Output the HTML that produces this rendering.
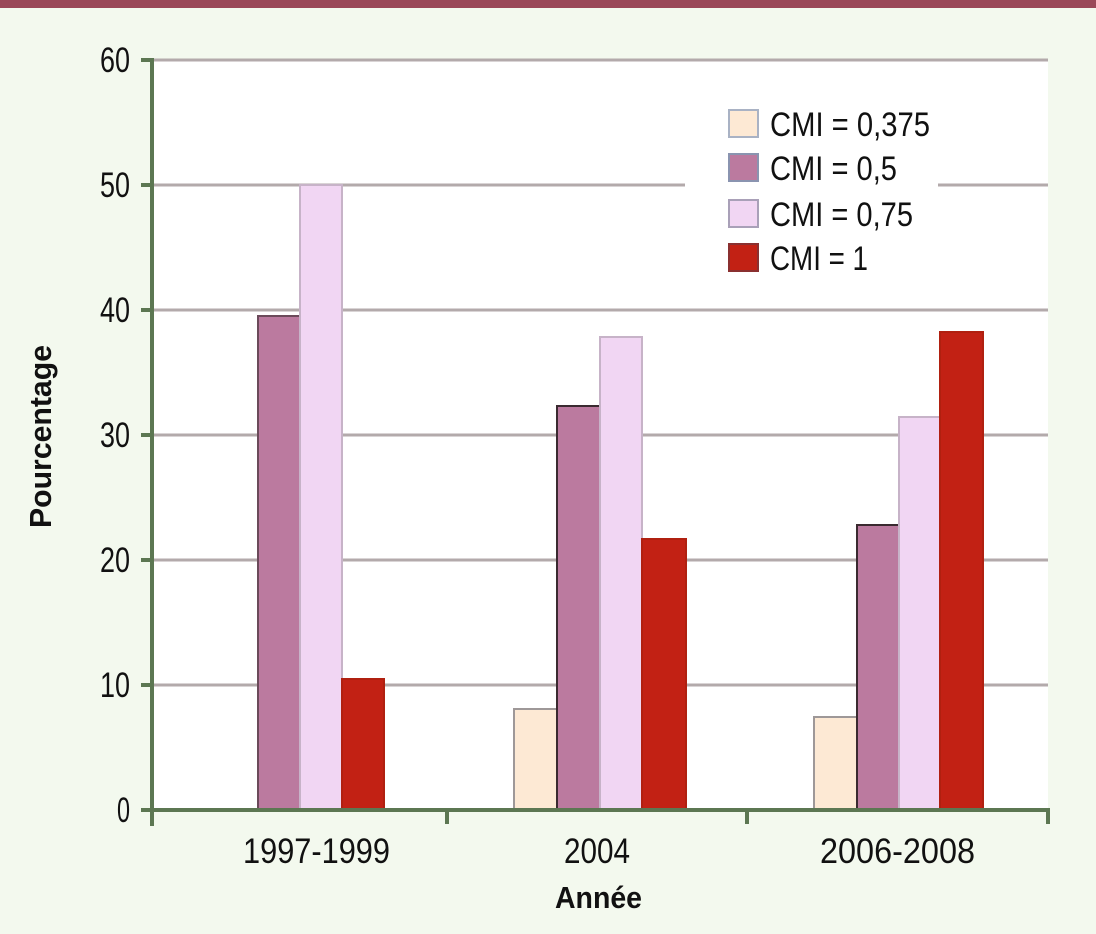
<!DOCTYPE html>
<html><head><meta charset="utf-8"><style>
html,body{margin:0;padding:0;background:#f3f9ee;}
svg{display:block;}
text{font-family:"Liberation Sans",sans-serif;fill:#111;}
</style></head><body>
<svg width="1096" height="934" viewBox="0 0 1096 934" xmlns="http://www.w3.org/2000/svg">
<rect x="0" y="0" width="1096" height="934" fill="#f3f9ee"/>
<rect x="0" y="0" width="1096" height="8" fill="#9a4858"/>
<rect x="152" y="60" width="896" height="750" fill="#ffffff"/>
<g stroke="#b3aaab" stroke-width="3">
<line x1="152" y1="60" x2="1048" y2="60"/>
<line x1="152" y1="185" x2="685" y2="185"/>
<line x1="938" y1="185" x2="1048" y2="185"/>
<line x1="152" y1="310" x2="1048" y2="310"/>
<line x1="152" y1="435" x2="1048" y2="435"/>
<line x1="152" y1="560" x2="1048" y2="560"/>
<line x1="152" y1="685" x2="1048" y2="685"/>
</g>
<g stroke-width="2">
<rect x="258" y="316" width="42" height="494" fill="#bb7a9f" stroke="#6b4a5a"/>
<rect x="300" y="185" width="42" height="625" fill="#f1d6f3" stroke="#c7b3c8"/>
<rect x="342" y="679" width="42" height="131" fill="#c22114" stroke="#b02010"/>
<rect x="514" y="709" width="43" height="101" fill="#fde9d4" stroke="#9e9898"/>
<rect x="557" y="406" width="43" height="404" fill="#bb7a9f" stroke="#3a2a30"/>
<rect x="600" y="337" width="42" height="473" fill="#f1d6f3" stroke="#c7b3c8"/>
<rect x="642" y="539" width="44" height="271" fill="#c22114" stroke="#b02010"/>
<rect x="814" y="717" width="43" height="93" fill="#fde9d4" stroke="#9e9898"/>
<rect x="857" y="525" width="42" height="285" fill="#bb7a9f" stroke="#3a2a30"/>
<rect x="899" y="417" width="41" height="393" fill="#f1d6f3" stroke="#c7b3c8"/>
<rect x="940" y="332" width="43" height="478" fill="#c22114" stroke="#b02010"/>
</g>
<g stroke="#5c7752" stroke-width="4" fill="none">
<line x1="152" y1="58" x2="152" y2="826"/>
<line x1="150" y1="810" x2="1050" y2="810"/>
<line x1="141" y1="60" x2="152" y2="60"/>
<line x1="141" y1="185" x2="152" y2="185"/>
<line x1="141" y1="310" x2="152" y2="310"/>
<line x1="141" y1="435" x2="152" y2="435"/>
<line x1="141" y1="560" x2="152" y2="560"/>
<line x1="141" y1="685" x2="152" y2="685"/>
<line x1="141" y1="810" x2="152" y2="810"/>
<line x1="447" y1="810" x2="447" y2="824"/>
<line x1="747" y1="810" x2="747" y2="824"/>
<line x1="1048" y1="808" x2="1048" y2="824"/>
</g>
<g font-size="35" lengthAdjust="spacingAndGlyphs">
<text x="100" y="72" textLength="30" lengthAdjust="spacingAndGlyphs">60</text>
<text x="100" y="197" textLength="30" lengthAdjust="spacingAndGlyphs">50</text>
<text x="100" y="322" textLength="30" lengthAdjust="spacingAndGlyphs">40</text>
<text x="100" y="447" textLength="30" lengthAdjust="spacingAndGlyphs">30</text>
<text x="100" y="572" textLength="30" lengthAdjust="spacingAndGlyphs">20</text>
<text x="100" y="697" textLength="30" lengthAdjust="spacingAndGlyphs">10</text>
<text x="117" y="822" textLength="13" lengthAdjust="spacingAndGlyphs">0</text>
</g>
<g font-size="35">
<text x="243" y="863" textLength="147" lengthAdjust="spacingAndGlyphs">1997-1999</text>
<text x="564" y="863" textLength="66" lengthAdjust="spacingAndGlyphs">2004</text>
<text x="820" y="863" textLength="155" lengthAdjust="spacingAndGlyphs">2006-2008</text>
</g>
<text x="555" y="908" font-size="31" font-weight="bold" textLength="87" lengthAdjust="spacingAndGlyphs">Année</text>
<text transform="translate(51,528) rotate(-90)" font-size="31" font-weight="bold" textLength="183" lengthAdjust="spacingAndGlyphs">Pourcentage</text>
<g stroke-width="2">
<rect x="729" y="110" width="29" height="27" fill="#fde9d4" stroke="#a9b2c4"/>
<rect x="729" y="154" width="29" height="27" fill="#bb7a9f" stroke="#8a94b0"/>
<rect x="729" y="200" width="29" height="27" fill="#f1d6f3" stroke="#a9a0b8"/>
<rect x="729" y="244" width="29" height="27" fill="#c22114" stroke="#8a3030"/>
</g>
<g font-size="34">
<text x="770" y="136" textLength="160" lengthAdjust="spacingAndGlyphs">CMI = 0,375</text>
<text x="770" y="180" textLength="127" lengthAdjust="spacingAndGlyphs">CMI = 0,5</text>
<text x="770" y="226" textLength="143" lengthAdjust="spacingAndGlyphs">CMI = 0,75</text>
<text x="770" y="270" textLength="98" lengthAdjust="spacingAndGlyphs">CMI = 1</text>
</g>
</svg>
</body></html>
